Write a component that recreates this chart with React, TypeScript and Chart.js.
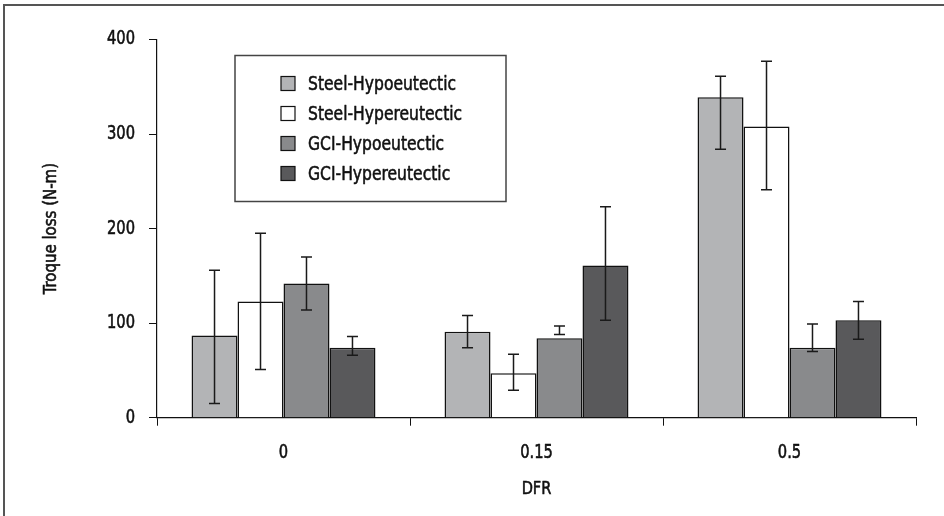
import React, { useEffect, useRef } from "react";
import { Chart, registerables } from "chart.js";

Chart.register(...registerables);

const categories = ["0", "0.15", "0.5"];
const seriesNames = ["Steel-Hypoeutectic", "Steel-Hypereutectic", "GCI-Hypoeutectic", "GCI-Hypereutectic"];

const steelHypo = [87, 91, 339];
const steelHypoLow = [15, 74, 284];
const steelHypoHigh = [156, 108, 361];

const steelHyper = [123, 47, 308];
const steelHyperLow = [51, 29, 241];
const steelHyperHigh = [195, 67, 377];

const gciHypo = [142, 84, 74];
const gciHypoLow = [114, 88, 70];
const gciHypoHigh = [170, 97, 99];

const gciHyper = [74, 161, 103];
const gciHyperLow = [66, 103, 83];
const gciHyperHigh = [86, 223, 123];

const yTicks = [0, 100, 200, 300, 400];
const xTitle = "DFR";
const yTitle = "Troque loss (N-m)";

const colors = ["#b3b4b6", "#ffffff", "#898a8c", "#59595b"];
const FONT = "'DejaVu Sans Condensed', 'DejaVu Sans', sans-serif";
const TEXT = "#111111";

const errorLows = [steelHypoLow, steelHyperLow, gciHypoLow, gciHyperLow];
const errorHighs = [steelHypoHigh, steelHyperHigh, gciHypoHigh, gciHyperHigh];

function narrowText(
  ctx: CanvasRenderingContext2D,
  text: string,
  x: number,
  y: number,
  size: number,
  align: CanvasTextAlign,
  sx: number,
  rotate = 0
) {
  ctx.save();
  ctx.translate(x, y);
  if (rotate) ctx.rotate(rotate);
  ctx.scale(sx, 1);
  ctx.font = `${size}px ${FONT}`;
  ctx.fillStyle = TEXT;
  ctx.strokeStyle = TEXT;
  ctx.lineWidth = 0.55;
  ctx.lineJoin = "round";
  ctx.textAlign = align;
  ctx.textBaseline = "middle";
  ctx.fillText(text, 0, 0);
  ctx.strokeText(text, 0, 0);
  ctx.restore();
}

const errorBarPlugin = {
  id: "errorBars",
  afterDatasetsDraw(chart: any) {
    const ctx = chart.ctx;
    const y = chart.scales.y;
    ctx.save();
    ctx.strokeStyle = "#1a1a1a";
    ctx.lineWidth = 1.5;
    chart.data.datasets.forEach((ds: any, di: number) => {
      const meta = chart.getDatasetMeta(di);
      meta.data.forEach((bar: any, i: number) => {
        const x = bar.x;
        const yl = y.getPixelForValue(errorLows[di][i]);
        const yh = y.getPixelForValue(errorHighs[di][i]);
        const cap = 5.5;
        ctx.beginPath();
        ctx.moveTo(x, yl);
        ctx.lineTo(x, yh);
        ctx.moveTo(x - cap, yl);
        ctx.lineTo(x + cap, yl);
        ctx.moveTo(x - cap, yh);
        ctx.lineTo(x + cap, yh);
        ctx.stroke();
      });
    });
    ctx.restore();
  },
};

const textPlugin = {
  id: "narrowTexts",
  afterDraw(chart: any) {
    const ctx = chart.ctx;
    const area = chart.chartArea;
    const xs = chart.scales.x;
    const ys = chart.scales.y;
    // y tick labels
    ys.ticks.forEach((t: any) => {
      const py = ys.getPixelForValue(t.value);
      narrowText(ctx, String(t.label ?? t.value), ys.right - 8 - 14, py, 19, "right", 0.86);
    });
    // x tick labels
    xs.ticks.forEach((t: any, i: number) => {
      const px = xs.getPixelForTick(i);
      narrowText(ctx, String(t.label), px, 453, 19, "center", 0.86);
    });
    // axis titles
    narrowText(ctx, xTitle, (area.left + area.right) / 2, 489, 18, "center", 0.9);
    narrowText(ctx, yTitle, 52, (area.top + area.bottom) / 2, 17, "center", 0.98, -Math.PI / 2);

    // legend box
    const bx = area.left + 78;
    const by = area.top + 16;
    const bw = 271;
    const bh = 146;
    ctx.save();
    ctx.fillStyle = "#ffffff";
    ctx.fillRect(bx, by, bw, bh);
    ctx.strokeStyle = "#444444";
    ctx.lineWidth = 1.5;
    ctx.strokeRect(bx, by, bw, bh);
    chart.data.datasets.forEach((ds: any, i: number) => {
      const cy = by + 28 + i * 30;
      ctx.fillStyle = ds.backgroundColor;
      ctx.fillRect(bx + 46, cy - 7, 14, 14);
      ctx.strokeStyle = "#111111";
      ctx.lineWidth = 1.2;
      ctx.strokeRect(bx + 46, cy - 7, 14, 14);
      narrowText(ctx, ds.label, bx + 73, cy + 1, 20, "left", 0.865);
    });
    ctx.restore();
  },
};

export default function App() {
  const canvasRef = useRef<HTMLCanvasElement | null>(null);

  useEffect(() => {
    const canvas = canvasRef.current;
    if (!canvas) return;
    const values = [steelHypo, steelHyper, gciHypo, gciHyper];
    const chart = new Chart(canvas, {
      type: "bar",
      data: {
        labels: categories,
        datasets: values.map((v, i) => ({
          label: seriesNames[i],
          data: v,
          backgroundColor: colors[i],
          borderColor: "#111111",
          borderWidth: 1.5,
          categoryPercentage: 0.727,
          barPercentage: 1.0,
        })),
      },
      options: {
        responsive: false,
        animation: false,
        devicePixelRatio: 1,
        layout: { padding: { top: 39.5, right: 28, bottom: 0, left: 0 } },
        plugins: {
          legend: { display: false },
          tooltip: { enabled: false },
        },
        scales: {
          x: {
            type: "category",
            grid: {
              display: true,
              drawOnChartArea: false,
              drawTicks: true,
              tickLength: 8,
              color: "#111111",
              offset: true,
            },
            border: { display: true, color: "#111111", width: 1.2 },
            ticks: { display: false },
            title: { display: false },
            afterFit(scale: any) {
              scale.height = 98.3;
            },
          },
          y: {
            min: 0,
            max: 400,
            afterBuildTicks(scale: any) {
              scale.ticks = yTicks.map((v) => ({ value: v }));
            },
            grid: {
              display: true,
              drawOnChartArea: false,
              drawTicks: true,
              tickLength: 8,
              color: "#111111",
            },
            border: { display: true, color: "#111111", width: 1.2 },
            ticks: { display: false },
            title: { display: false },
            afterFit(scale: any) {
              scale.width = 157;
            },
          },
        },
      },
      plugins: [errorBarPlugin, textPlugin],
    } as any);
    return () => chart.destroy();
  }, []);

  return (
    <div
      style={{
        position: "fixed",
        left: 0,
        top: 0,
        width: 944,
        height: 516,
        background: "#ffffff",
        overflow: "hidden",
      }}
    >
      <div
        style={{
          position: "absolute",
          left: 2.5,
          top: 3.5,
          width: 2000,
          height: 2000,
          borderTop: "2px solid #555555",
          borderLeft: "2px solid #555555",
        }}
      />
      <canvas ref={canvasRef} width={944} height={516} style={{ position: "absolute", left: 0, top: 0 }} />
    </div>
  );
}
